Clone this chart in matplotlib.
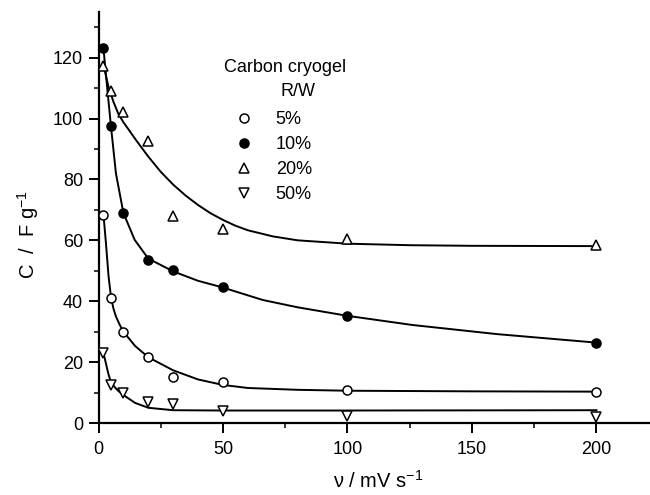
import numpy as np
import matplotlib
matplotlib.use("Agg")
import matplotlib.pyplot as plt
from matplotlib.ticker import MultipleLocator

plt.rcParams['font.family'] = ['Liberation Sans', 'DejaVu Sans']
plt.rcParams['mathtext.fontset'] = 'custom'
plt.rcParams['mathtext.rm'] = 'Liberation Sans'
plt.rcParams['mathtext.it'] = 'Liberation Sans:italic'

#*************** measured points ************************************
scan_rate = [2, 5, 10, 20, 30, 50, 100, 200]   # mV/s
c_5  = [68.4, 41.2, 30.0, 21.6, 15.2, 13.4, 10.7, 10.1]
c_10 = [123.2, 97.4, 69.1, 53.7, 50.4, 44.6, 35.2, 26.4]
c_20 = [117.4, 108.9, 102.2, 92.6, 68.0, 63.6, 60.3, 58.5]
c_50 = [22.9, 12.6, 10.0, 6.8, 6.1, 3.8, 2.4, 1.9]
labels = ['5%', '10%', '20%', '50%']

#*************** fitted curves ***************
fit5_x  = [2, 3, 4, 5, 6, 7, 8.5, 10, 14.7, 20, 30, 40, 50, 60, 80, 100, 150, 200]
fit5_y  = [68.4, 59, 48.5, 41.5, 37.6, 35, 32.3, 30, 25.3, 21.6, 17.3, 14.3, 12.5, 11.5, 10.9, 10.6, 10.4, 10.3]
fit10_x = [2, 3.5, 5, 7, 10, 14.5, 20, 30, 40, 50, 55, 66, 80, 100, 126, 160, 200]
fit10_y = [123, 110, 97.5, 82, 69, 60.2, 54, 49.8, 46.7, 44.5, 43.2, 40.4, 38, 35.2, 32.2, 29.2, 26.4]
fit20_x = [2, 4, 6, 8, 10, 12, 15, 20, 25, 30, 35, 40, 45, 50, 55, 60, 70, 80, 100, 125, 150, 200]
fit20_y = [117.5, 110.5, 105.5, 101.5, 98.8, 96.5, 93, 87.5, 82.5, 78.3, 74.7, 71.6, 68.9, 66.7, 64.8, 63.3, 61.3, 60, 58.9, 58.4, 58.2, 58.1]
fit50_x = [2, 3, 4, 5, 6.6, 8, 10, 14.7, 20, 30, 50, 100, 200]
fit50_y = [23, 19.5, 16, 13.5, 11.7, 10.5, 9.2, 6.6, 5.0, 4.2, 4.1, 4.1, 4.2]

fig = plt.figure(figsize=(6.5, 4.95), dpi=100)
ax = fig.add_axes([98.5/650, 1-423/495, (650-98.5)/650, (423-12)/495])

lw = 1.4
ax.plot(fit5_x, fit5_y, 'k-', lw=lw)
ax.plot(fit10_x, fit10_y, 'k-', lw=lw)
ax.plot(fit20_x, fit20_y, 'k-', lw=lw)
ax.plot(fit50_x, fit50_y, 'k-', lw=lw)

mk = dict(mec='black', mew=1.1, ls='none', zorder=3)
h5, = ax.plot(scan_rate, c_5, 'o', ms=6.5, mfc='white', **mk)
h10, = ax.plot(scan_rate, c_10, 'o', ms=6.5, mfc='black', **mk)
h20, = ax.plot(scan_rate, c_20, '^', ms=7, mfc='white', **mk)
h50, = ax.plot(scan_rate, c_50, 'v', ms=7, mfc='white', **mk)

ax.set_xlim(0, 221.5)
ax.set_ylim(0, 135)
ax.spines['top'].set_visible(False)
ax.spines['right'].set_visible(False)
ax.spines['left'].set_linewidth(1.6)
ax.spines['bottom'].set_linewidth(1.6)

ax.xaxis.set_major_locator(MultipleLocator(50))
ax.xaxis.set_minor_locator(MultipleLocator(25))
ax.yaxis.set_major_locator(MultipleLocator(20))
ax.yaxis.set_minor_locator(MultipleLocator(10))
ax.tick_params(which='major', direction='out', length=7, width=1.4, labelsize=13, pad=4)
ax.tick_params(axis='x', which='major', pad=6)
ax.tick_params(which='minor', direction='out', length=3.5, width=1.1)

ax.set_xlabel('ν / mV s$^{-1}$', fontsize=14.5)
ax.set_ylabel('C  /  F g$^{-1}$', fontsize=14.5)
ax.xaxis.set_label_coords(0.507, -0.115)
ax.yaxis.set_label_coords(-0.104, 0.459)

# legend title done by hand, entries through legend()
fig.text(285/650, 1-67/495, 'Carbon cryogel', fontsize=13, ha='center', va='center')
fig.text(298/650, 1-91/495, 'R/W', fontsize=13, ha='center', va='center')
ax.legend([h5, h10, h20, h50], labels, loc='upper left',
          bbox_to_anchor=(233/650, 1-111/495), bbox_transform=fig.transFigure,
          frameon=False, fontsize=13, handlelength=1.2, handletextpad=1.17,
          labelspacing=0.45, borderpad=0, borderaxespad=0)

plt.savefig('out.png', dpi=100)
